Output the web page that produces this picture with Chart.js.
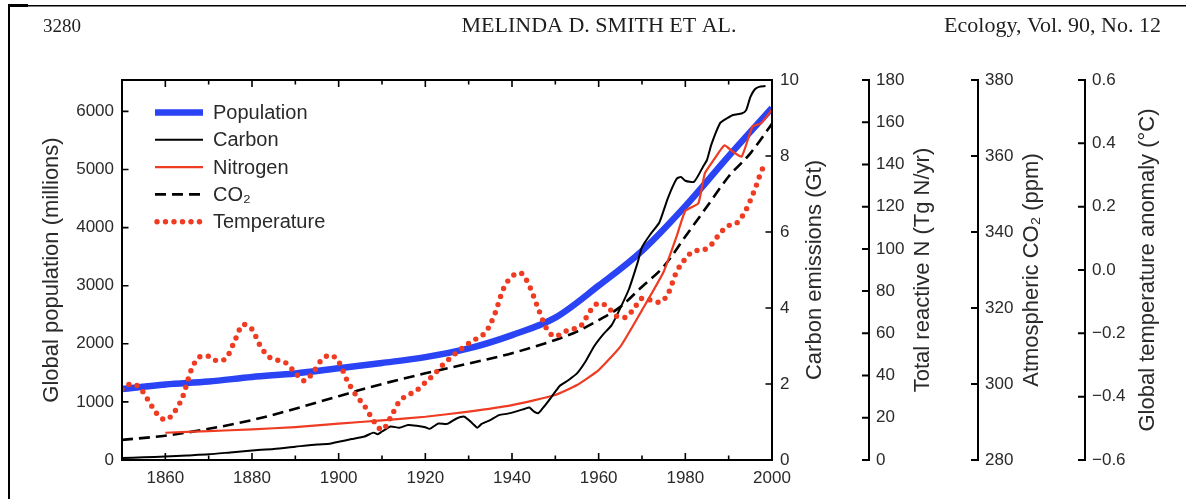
<!DOCTYPE html>
<html>
<head>
<meta charset="utf-8">
<script src="https://cdn.jsdelivr.net/npm/chart.js@4.4.1/dist/chart.umd.min.js"></script>
<style>
html,body{margin:0;padding:0;background:#fff;width:1186px;height:499px;overflow:hidden}
canvas{display:block}
</style>
</head>
<body>
<canvas id="c" width="1186" height="499"></canvas>
<script>
// ---------- DATA ----------
const headerTexts = ['3280', 'MELINDA D. SMITH ET AL.', 'Ecology, Vol. 90, No. 12'];
const seriesNames = ['Population', 'Carbon', 'Nitrogen', 'CO\u2082', 'Temperature'];
const axisTitles = ['Global population (millions)', 'Carbon emissions (Gt)', 'Total reactive N (Tg N/yr)', 'Atmospheric CO\u2082 (ppm)', 'Global temperature anomaly (\u00B0C)'];

const popYears = [1850,1860,1870,1880,1890,1900,1910,1920,1930,1940,1950,1960,1970,1980,1990,2000];
const population = [1220,1300,1350,1430,1490,1580,1670,1770,1920,2150,2450,3000,3600,4370,5230,6060];

const carbonYears = [1850,1855,1860,1865,1870,1875,1880,1885,1890,1895,1898,1900,1903,1906,1908,1909,1910,1912,1914,1916,1918,1920,1921,1923,1925,1927,1929,1931,1932,1933,1935,1937,1939,1941,1943,1944,1945,1946,1947,1948,1950,1951,1953,1955,1957,1959,1961,1963,1965,1967,1969,1970,1972,1974,1976,1978,1979,1980,1982,1984,1985,1986,1988,1989,1991,1993,1994,1995,1996,1997,1998.5];
const carbon = [0.05,0.07,0.09,0.12,0.15,0.2,0.25,0.29,0.35,0.41,0.43,0.48,0.55,0.62,0.72,0.68,0.75,0.88,0.85,0.92,0.9,0.86,0.82,0.96,0.95,1.08,1.14,0.95,0.85,0.95,1.05,1.18,1.22,1.28,1.35,1.38,1.28,1.23,1.35,1.49,1.8,1.95,2.1,2.28,2.6,3.0,3.3,3.55,4.0,4.5,5.2,5.6,5.95,6.25,6.9,7.4,7.45,7.35,7.32,7.7,7.9,8.3,8.86,8.95,9.08,9.12,9.2,9.55,9.75,9.82,9.84];

const nitrogenYears = [1860,1870,1880,1890,1900,1910,1920,1930,1940,1950,1955,1960,1965,1970,1975,1978,1980,1983,1984.5,1986.5,1989,1991,1993,1995.5,1997.5,2000];
const nitrogen = [12.9,13.7,14.5,15.6,17.2,18.8,20.5,22.9,26,30.8,35.5,42.6,53.7,71,89.2,106,118,121.6,135.8,142,149,146,143.7,157.9,159.5,166];

const co2Years = [1850,1860,1870,1880,1890,1900,1910,1920,1930,1940,1950,1955,1960,1965,1970,1975,1980,1985,1990,1995,2000];
const co2 = [285.3,286.4,288.2,290.5,293.5,296.8,300,302.8,305.4,308.1,311.6,313.8,316.8,320.3,325.6,330.9,338.8,346.7,354.6,360.7,368.5];

const tempYears = [1850,1852,1854,1856,1858,1860,1862,1864,1866,1868,1870,1872,1874,1876,1878,1880,1882,1884,1886,1888,1890,1892,1894,1896,1898,1900,1902,1904,1906,1908,1910,1912,1914,1916,1918,1920,1922,1924,1926,1928,1930,1932,1934,1936,1938,1940,1942,1944,1946,1948,1950,1952,1954,1956,1958,1960,1962,1964,1966,1968,1970,1972,1974,1976,1978,1980,1982,1984,1986,1988,1990,1992,1994,1996,1998,1999];
const temperature = [-0.377,-0.36,-0.37,-0.41,-0.453,-0.473,-0.45,-0.40,-0.315,-0.274,-0.272,-0.287,-0.279,-0.224,-0.172,-0.187,-0.242,-0.275,-0.285,-0.295,-0.325,-0.35,-0.325,-0.285,-0.269,-0.29,-0.35,-0.395,-0.43,-0.475,-0.505,-0.465,-0.415,-0.395,-0.38,-0.355,-0.33,-0.30,-0.275,-0.252,-0.232,-0.215,-0.195,-0.14,-0.06,-0.02,-0.01,-0.05,-0.12,-0.185,-0.21,-0.195,-0.187,-0.175,-0.13,-0.105,-0.115,-0.145,-0.15,-0.125,-0.09,-0.095,-0.102,-0.075,-0.005,0.035,0.06,0.063,0.08,0.116,0.14,0.15,0.19,0.253,0.325,0.335];

const xMajorTicks = [1860,1880,1900,1920,1940,1960,1980,2000];
const xAllTicks = [1850,1860,1870,1880,1890,1900,1910,1920,1930,1940,1950,1960,1970,1980,1990,2000];
const popTicks = [0,1000,2000,3000,4000,5000,6000];
const carbonTicks = [0,2,4,6,8,10];
const nTicks = [0,20,40,60,80,100,120,140,160,180];
const co2Ticks = [280,300,320,340,360,380];
const tempTicks = [-0.6,-0.4,-0.2,0,0.2,0.4,0.6];

// ---------- STYLE ----------
const FONT = "'Liberation Sans', Arial, Helvetica, sans-serif";
const SERIF = "'Liberation Serif', 'Times New Roman', serif";
const TXT = '#2a2a2a';
const BLUE = '#2a43f4';
const RED = '#ee3b22';

const pts = (xs, ys) => xs.map((x, i) => ({x: x, y: ys[i]}));
const setTicks = arr => (s => { s.ticks = arr.map(v => ({value: v})); });
const tickFont = {family: FONT, size: 17};

const datasets = [
  {label: seriesNames[0], data: pts(popYears, population), yAxisID: 'y', borderColor: BLUE, borderWidth: 6.5, cubicInterpolationMode: 'monotone', order: 9, borderCapStyle: 'butt'},
  {label: seriesNames[1], data: pts(carbonYears, carbon), yAxisID: 'yC', borderColor: '#000', borderWidth: 2, tension: 0.2, order: 2},
  {label: seriesNames[2], data: pts(nitrogenYears, nitrogen), yAxisID: 'yN', borderColor: RED, borderWidth: 2.2, tension: 0.15, order: 3},
  {label: seriesNames[3], data: pts(co2Years, co2), yAxisID: 'yCO2', borderColor: '#000', borderWidth: 2.6, borderDash: [11, 6], cubicInterpolationMode: 'monotone', order: 4},
  {label: seriesNames[4], data: pts(tempYears, temperature), yAxisID: 'yT', borderColor: RED, borderWidth: 5.4, borderDash: [0, 8.5], borderCapStyle: 'round', cubicInterpolationMode: 'monotone', order: 1}
];

function yScale(id, pos, weight, min, max, ticks, width, fmt) {
  return {
    type: 'linear', position: pos, weight: weight, min: min, max: max,
    afterBuildTicks: setTicks(ticks),
    afterFit: s => { s.width = width; },
    grid: {display: false, drawTicks: false},
    border: {display: false},
    ticks: {font: tickFont, color: TXT, padding: 8, callback: fmt || (v => String(v))}
  };
}

const tempFmt = v => {
  const r = Math.round(v * 10) / 10;
  if (r === 0) return '0.0';
  return (r < 0 ? '\u2212' : '') + Math.abs(r).toFixed(1);
};

const deco = {
  id: 'deco',
  afterDraw(chart) {
    const ctx = chart.ctx, a = chart.chartArea, S = chart.scales;
    ctx.save();
    // header
    ctx.fillStyle = '#1e1e1e';
    ctx.textBaseline = 'alphabetic';
    ctx.font = '19px ' + SERIF;
    ctx.textAlign = 'left'; ctx.fillText(headerTexts[0], 43, 31.5);
    ctx.font = '22px ' + SERIF;
    ctx.textAlign = 'center'; ctx.fillText(headerTexts[1], 599, 31.5);
    ctx.textAlign = 'right'; ctx.fillText(headerTexts[2], 1161, 31.5);
    // page frame
    ctx.fillStyle = '#000';
    ctx.fillRect(8, 5, 1178, 1.5);
    ctx.fillRect(8, 4, 20, 3);
    ctx.fillRect(8, 5, 2, 494);
    // plot frame
    ctx.strokeStyle = '#000';
    ctx.lineWidth = 2;
    ctx.strokeRect(a.left, a.top, a.right - a.left, a.bottom - a.top);
    ctx.lineCap = 'butt';
    ctx.lineWidth = 1.6;
    ctx.beginPath();
    xAllTicks.forEach(v => {
      const x = S.x.getPixelForValue(v);
      const len = xMajorTicks.includes(v) ? 7 : 4.5;
      ctx.moveTo(x, a.bottom); ctx.lineTo(x, a.bottom - len);
      ctx.moveTo(x, a.top); ctx.lineTo(x, a.top + len);
    });
    popTicks.forEach(v => { const y = S.y.getPixelForValue(v); ctx.moveTo(a.left, y); ctx.lineTo(a.left + 6.5, y); });
    carbonTicks.forEach(v => { const y = S.yC.getPixelForValue(v); ctx.moveTo(a.right - 6.5, y); ctx.lineTo(a.right, y); });
    ctx.stroke();
    // extra right axes
    [['yN', nTicks], ['yCO2', co2Ticks], ['yT', tempTicks]].forEach(([id, tk]) => {
      const s = S[id];
      const x = s.left + 1;
      ctx.lineWidth = 2;
      ctx.beginPath();
      ctx.moveTo(x, s.getPixelForValue(s.max) - 1);
      ctx.lineTo(x, s.getPixelForValue(s.min) + 1);
      ctx.stroke();
      ctx.beginPath();
      tk.forEach(v => { const y = s.getPixelForValue(v); ctx.moveTo(x - 7, y); ctx.lineTo(x, y); });
      ctx.stroke();
    });
    // axis titles (reading bottom to top)
    ctx.fillStyle = TXT;
    ctx.font = '22px ' + FONT;
    ctx.textAlign = 'center';
    ctx.textBaseline = 'middle';
    const cy = (a.top + a.bottom) / 2;
    const titleX = [52, 815, 923, 1032, 1148];
    axisTitles.forEach((t, i) => {
      ctx.save();
      ctx.translate(titleX[i], cy);
      ctx.rotate(-Math.PI / 2);
      ctx.fillText(t, 0, 0);
      ctx.restore();
    });
    // legend
    ctx.font = '20px ' + FONT;
    ctx.textAlign = 'left';
    ctx.textBaseline = 'middle';
    chart.data.datasets.forEach((d, i) => {
      const y = 112.5 + i * 27.3;
      ctx.save();
      ctx.strokeStyle = d.borderColor;
      ctx.lineWidth = d.borderWidth;
      ctx.lineCap = d.borderCapStyle || 'butt';
      ctx.setLineDash(d.borderDash || []);
      ctx.beginPath();
      if (d.borderCapStyle === 'round') { ctx.moveTo(157, y); ctx.lineTo(202, y); }
      else { ctx.moveTo(155, y); ctx.lineTo(203, y); }
      ctx.stroke();
      ctx.restore();
      ctx.fillStyle = TXT;
      ctx.fillText(d.label, 213, y + 1);
    });
    ctx.restore();
  }
};

new Chart(document.getElementById('c'), {
  type: 'line',
  data: {datasets: datasets},
  options: {
    responsive: false,
    animation: false,
    devicePixelRatio: 1,
    layout: {padding: {top: 80, left: 0, right: 0, bottom: 0}},
    elements: {point: {radius: 0, hitRadius: 0}},
    plugins: {legend: {display: false}, tooltip: {enabled: false}},
    scales: {
      x: {
        type: 'linear', position: 'bottom', min: 1850, max: 2000,
        afterBuildTicks: setTicks(xMajorTicks),
        afterFit: s => { s.height = 39; },
        grid: {display: false, drawTicks: false},
        border: {display: false},
        ticks: {font: tickFont, color: TXT, padding: 8, maxRotation: 0, autoSkip: false, callback: v => String(v)}
      },
      y: yScale('y', 'left', 0, 0, 6540, popTicks, 122),
      yC: yScale('yC', 'right', 1, 0, 10, carbonTicks, 96),
      yN: yScale('yN', 'right', 2, 0, 180, nTicks, 109),
      yCO2: yScale('yCO2', 'right', 3, 280, 380, co2Ticks, 107),
      yT: yScale('yT', 'right', 4, -0.6, 0.6, tempTicks, 102, tempFmt)
    }
  },
  plugins: [deco]
});
</script>
</body>
</html>
